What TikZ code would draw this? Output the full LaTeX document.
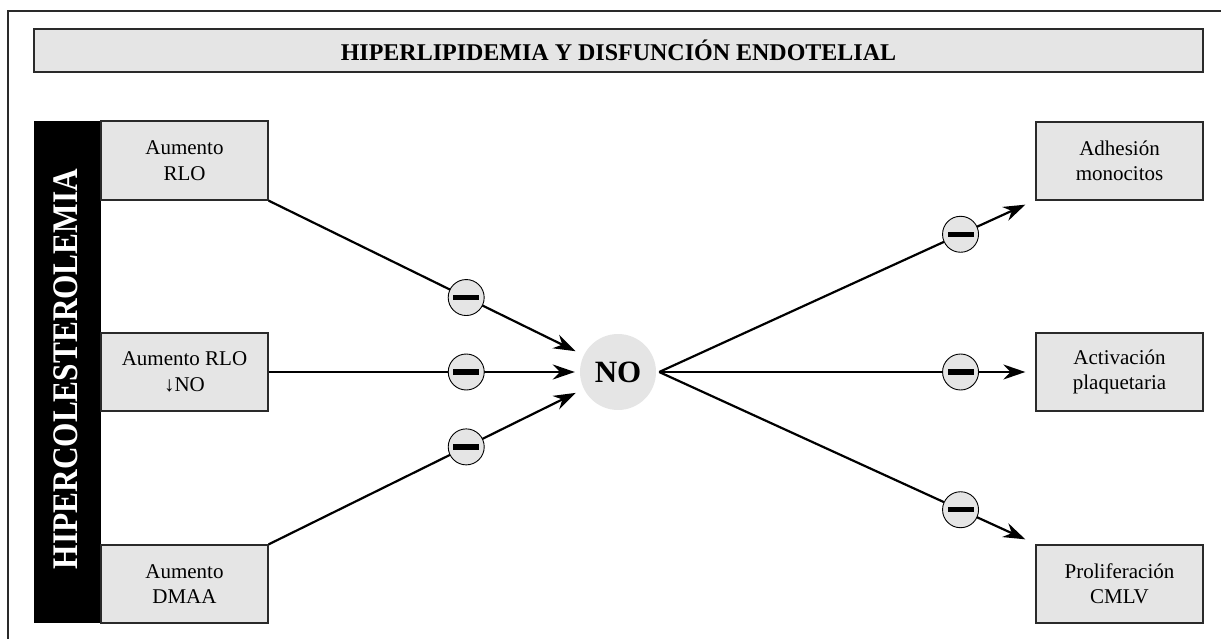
\documentclass[tikz,border=0pt]{standalone}
\usepackage{fontspec}
\setmainfont{Liberation Serif}
\usetikzlibrary{arrows.meta}
\definecolor{boxgray}{HTML}{E5E5E5}
\definecolor{edge}{HTML}{2A2A2A}
\tikzset{
  panel/.style={draw=edge, line width=1.3pt, fill=boxgray, minimum width=167pt,
    minimum height=78pt, inner sep=0pt, align=center, font=\fontsize{21}{25.5}\selectfont},
  inhib/.style={circle, draw=black, line width=0.9pt, fill=boxgray, minimum size=36pt,
    inner sep=0pt, path picture={\fill[black]
      ([xshift=-13pt,yshift=-2.7pt]path picture bounding box.center) rectangle
      ([xshift=13pt,yshift=2.7pt]path picture bounding box.center);}},
  link/.style={line width=2.2pt, -{Stealth[length=22pt,width=15pt]}},
}
\begin{document}
\begin{tikzpicture}[x=1pt,y=-1pt]
\useasboundingbox (0,0) rectangle (1221,639);
% outer frame (continues past the page edge)
\draw[edge, line width=1.4pt] (8,660) -- (8,11) -- (1240,11);
% title bar
\node[draw=edge, line width=1.3pt, fill=boxgray, minimum width=1169pt, minimum height=43pt,
  inner sep=0pt, font=\bfseries\fontsize{24}{28}\selectfont] (title) at (618.5,50.5)
  {HIPERLIPIDEMIA Y DISFUNCIÓN ENDOTELIAL};
% black side bar
\node[fill=black, minimum width=67pt, minimum height=502pt, inner sep=0pt] (bar) at (67.5,372) {};
\node[rotate=90, text=white, inner sep=0pt, font=\bfseries\fontsize{36}{38}\selectfont] (hc) at (66,369)
  {\scalebox{0.87}[1]{HIPERCOLESTEROLEMIA}};
% causes
\node[panel, minimum height=79pt] (b1) at (184.5,160.5) {Aumento\\RLO};
\node[panel] (b2) at (184.5,372) {Aumento RLO\\↓NO};
\node[panel] (b3) at (184.5,584) {Aumento\\DMAA};
% effects
\node[panel] (a1) at (1119.5,161) {Adhesión\\monocitos};
\node[panel] (a2) at (1119.5,372) {Activación\\plaquetaria};
\node[panel] (a3) at (1119.5,584) {Proliferación\\CMLV};
% nitric oxide hub
\node[circle, fill=boxgray, minimum size=76pt, inner sep=0pt,
  font=\bfseries\fontsize{31}{34}\selectfont] (no) at (618,372) {NO};
\coordinate (hub) at ([xshift=3pt]no.east);
\coordinate (t1) at ([xshift=-10pt,yshift=-4pt]a1.south west);
\coordinate (t2) at ([xshift=-10pt]a2.west);
\coordinate (t3) at ([xshift=-10pt,yshift=5pt]a3.north west);
% inhibited pathways into NO
\draw[link, shorten >=9pt] (b1.south east) -- node[inhib, pos=0.627] (m1) {} (no);
\draw[link, shorten >=5pt] (b2.east) -- node[inhib, pos=0.635] (m2) {} (no);
\draw[link, shorten >=9pt] (b3.north east) -- node[inhib, pos=0.627] (m3) {} (no);
% inhibited pathways out of NO
\draw[link] (hub) -- node[inhib, pos=0.823] (m4) {} (t1);
\draw[link] (hub) -- node[inhib, pos=0.823] (m5) {} (t2);
\draw[link] (hub) -- node[inhib, pos=0.823] (m6) {} (t3);
\end{tikzpicture}
\end{document}
